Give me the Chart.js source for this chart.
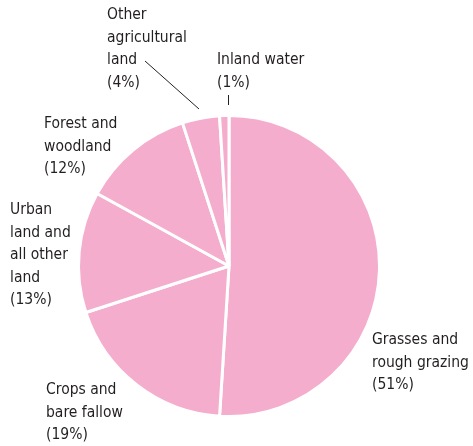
<!DOCTYPE html>
<html>
<head>
<meta charset="utf-8">
<script src="https://cdn.jsdelivr.net/npm/chart.js@4"></script>
<style>
  html, body { margin: 0; padding: 0; background: #fff; }
  #wrap { width: 473px; height: 446px; }
</style>
</head>
<body>
<div id="wrap"><canvas id="pie-chart" width="473" height="446"></canvas></div>
<script>
// DATA
var categories = ["Grasses and rough grazing", "Crops and bare fallow", "Urban land and all other land",
                  "Forest and woodland", "Other agricultural land", "Inland water"];
var values = [51, 19, 13, 12, 4, 1];
var labelLines = [
    ["Grasses and", "rough grazing", "(51%)"],
    ["Crops and", "bare fallow", "(19%)"],
    ["Urban", "land and", "all other", "land", "(13%)"],
    ["Forest and", "woodland", "(12%)"],
    ["Other", "agricultural", "land", "(4%)"],
    ["Inland water", "(1%)"]
];

// where each text block sits (left x, first line middle y)
var labelPos = [[372, 340], [46, 390], [10, 210], [44, 124], [107, 15], [217, 60]];

var textPlugin = {
    id: "pieText",
    afterDraw: function (chart) {
        var ctx = chart.ctx;
        ctx.save();
        ctx.fillStyle = "#231f20";
        ctx.font = "15.5px 'DejaVu Sans Condensed', 'Liberation Sans Narrow', sans-serif";
        ctx.textBaseline = "middle";
        ctx.textAlign = "left";
        labelLines.forEach(function (lines, i) {
            lines.forEach(function (t, j) {
                ctx.fillText(t, labelPos[i][0], labelPos[i][1] + j * 22.5);
            });
        });
        // leader lines
        ctx.strokeStyle = "#231f20";
        ctx.lineWidth = 1;
        ctx.beginPath();
        ctx.moveTo(145, 61);
        ctx.lineTo(199, 109);
        ctx.moveTo(228.5, 95);
        ctx.lineTo(228.5, 105);
        ctx.stroke();
        ctx.restore();
    }
};

new Chart(document.getElementById("pie-chart"), {
    type: "pie",
    data: {
        labels: categories,
        datasets: [{
            data: values,
            backgroundColor: "#f5adcd",
            borderColor: "#ffffff",
            borderWidth: 3
        }]
    },
    options: {
        responsive: false,
        animation: false,
        layout: { padding: { left: 77, right: 92, top: 114, bottom: 28 } },
        plugins: {
            legend: { display: false },
            tooltip: { enabled: false }
        }
    },
    plugins: [textPlugin]
});
</script>
</body>
</html>
